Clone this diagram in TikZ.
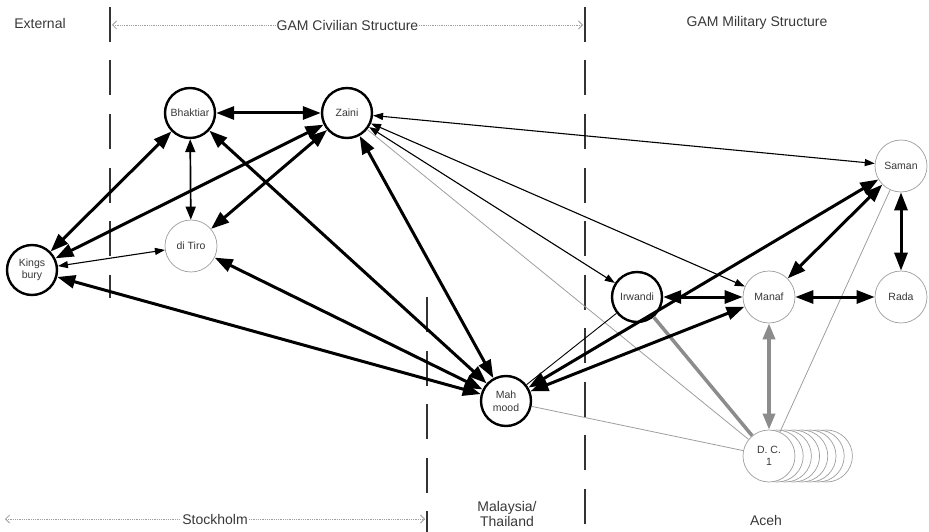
\documentclass[tikz,border=0pt]{standalone}
\usepackage{fontspec}
\setmainfont{Liberation Sans}
\usepackage[usenames]{xcolor}
\usepackage{tikz}
\usetikzlibrary{arrows.meta}

\definecolor{rimgray}{gray}{0.62}
\definecolor{linkgray}{gray}{0.62}
\definecolor{bargray}{gray}{0.55}
\definecolor{inkgray}{gray}{0.22}
\definecolor{dashgray}{gray}{0.2}

\tikzset{
  leader/.style={circle,draw=black,line width=2.4pt,fill=white,minimum size=50pt,inner sep=0pt,
    align=center,text=inkgray,font=\fontsize{10.5}{12.5}\selectfont},
  follower/.style={leader,draw=rimgray,line width=0.7pt,minimum size=52pt},
  strong/.style={line width=3pt,<->},
  medium/.style={line width=1.7pt,<->,>={Triangle[length=13pt,width=10pt]}},
  weak/.style={line width=1.1pt,<->,>={Triangle[length=10pt,width=7pt]}},
  plain/.style={line width=0.9pt},
  faint/.style={draw=linkgray,line width=0.8pt},
  bar/.style={draw=bargray,line width=3.5pt},
  region/.style={text=inkgray,font=\fontsize{14}{15}\selectfont,align=center},
  border/.style={dashgray,line width=2pt,dash pattern=on 35pt off 18.5pt},
  span/.style={linkgray,line width=0.8pt,densely dotted,<->,>={Straight Barb[length=4pt,width=8pt]}}
}

\begin{document}
\begin{tikzpicture}[x=1pt,y=-1pt]
\begin{scope}[>={Triangle[length=18pt,width=13pt]}]

    \useasboundingbox (0,0) rectangle (929,532);

    \draw[border] (110,7) -- (110,298);
    \draw[border] (585,7) -- (585,532);
    \draw[border] (427,297) -- (427,532);

    \node[region] (external) at (40,23) {External};
    \coordinate (civilL) at (112,25);
    \coordinate (civilR) at (583,25);
    \draw[span] (civilL) -- node[region,fill=white,inner sep=1pt] (civil) {GAM Civilian Structure} (civilR);
    \node[region] (military) at (757,23) {GAM Military Structure};

    \coordinate (stockL) at (5,519);
    \coordinate (stockR) at (425,519);
    \draw[span] (stockL) -- node[region,fill=white,inner sep=1pt] (stock) {Stockholm} (stockR);
    \node[region] (malay) at (507,514) {Malaysia/\\Thailand};
    \node[region] (aceh) at (766,520) {Aceh};

    \node[leader] (kings) at (32,270) {Kings\\bury};
    \node[leader] (bhak) at (190,113) {Bhaktiar};
    \node[leader] (zaini) at (347,113) {Zaini};
    \node[follower] (tiro) at (191,246) {di Tiro};
    \node[leader] (mah) at (506,401) {Mah\\mood};
    \node[leader] (irw) at (637,297) {Irwandi};
    \node[follower] (manaf) at (769,297) {Manaf};
    \node[follower] (rada) at (901,297) {Rada};
    \node[follower] (saman) at (901,166) {Saman};

    \foreach \k in {7,...,1}
        \node[follower] (dc\k) at (769+8.2*\k,456) {};
    \node[follower] (dc) at (769,456) {D. C.\\1};

    \draw[faint] (zaini) -- (dc);
    \draw[faint] (mah) -- (dc);
    \draw[faint] (saman) -- (dc);
    \draw[bar] (irw) -- (dc);
    \draw[bar,<->,>={Triangle[length=16pt,width=12pt]}] (manaf) -- (dc);
    \draw[plain] (mah) -- (irw);

    \draw[weak] (zaini) -- (saman);
    \draw[weak] (zaini) -- (manaf);
    \draw[weak] (zaini) -- (irw);
    \draw[weak] (tiro) -- (kings);
    \draw[medium] (bhak) -- (tiro);

    \draw[strong] (kings) -- (bhak);
    \draw[strong] (bhak) -- (zaini);
    \draw[strong] (zaini) -- (kings);
    \draw[strong] (zaini) -- (tiro);
    \draw[strong] (kings) -- (mah);
    \draw[strong] (bhak) -- (mah);
    \draw[strong] (tiro) -- (mah);
    \draw[strong] (zaini) -- (mah);

    \draw[strong] (irw) -- (manaf);
    \draw[strong] (manaf) -- (rada);
    \draw[strong] (saman) -- (rada);
    \draw[strong] (saman) -- (manaf);
    \draw[strong] (saman) -- (mah);
    \draw[strong] (manaf) -- (mah);

\end{scope}
\end{tikzpicture}
\end{document}
